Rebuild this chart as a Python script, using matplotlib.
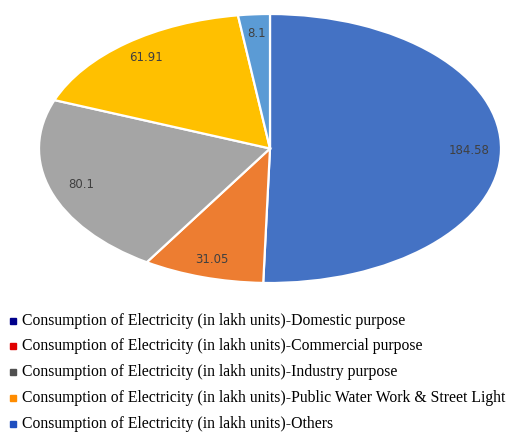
import matplotlib.pyplot as plt
from matplotlib.patches import Rectangle

categories = [
    "Consumption of Electricity (in lakh units)-Domestic purpose",
    "Consumption of Electricity (in lakh units)-Commercial purpose",
    "Consumption of Electricity (in lakh units)-Industry purpose",
    "Consumption of Electricity (in lakh units)-Public Water Work & Street Light",
    "Consumption of Electricity (in lakh units)-Others",
]
values = [184.58, 31.05, 80.1, 61.91, 8.1]
value_labels = ["184.58", "31.05", "80.1", "61.91", "8.1"]

slice_colors = ["#4472C4", "#ED7D31", "#A5A5A5", "#FFC000", "#5B9BD5"]
legend_colors = ["#00008B", "#E00000", "#505050", "#FF8C00", "#1F4FBF"]

W, H = 520, 432
fig = plt.figure(figsize=(W / 100, H / 100), dpi=100)

# flattened pie: the axes box is wider than tall
ax = fig.add_axes([39 / W, (H - 283) / H, 462 / W, 269 / H])
wedges, texts, autotexts = ax.pie(
    values,
    colors=slice_colors,
    startangle=90,
    counterclock=False,
    autopct="%1.0f",
    pctdistance=0.86,
    wedgeprops=dict(edgecolor="white", linewidth=1.6),
)
for t, lab in zip(autotexts, value_labels):
    t.set_text(lab)
    t.set_fontsize(8.5)
    t.set_color("#404040")
ax.set_aspect("auto")
ax.set_xlim(-1.0, 1.0)
ax.set_ylim(-1.0, 1.0)

# legend rows below the pie
row_y = [321, 346, 372, 398, 424]
for name, col, y in zip(categories, legend_colors, row_y):
    fig.patches.append(Rectangle((10 / W, (H - y - 3) / H), 6 / W, 6 / H,
                                 transform=fig.transFigure, color=col))
    fig.text(22 / W, (H - y) / H, name, ha="left", va="center",
             family="Liberation Serif", fontsize=11.3, color="#000000")

fig.savefig("out.png", dpi=100)
